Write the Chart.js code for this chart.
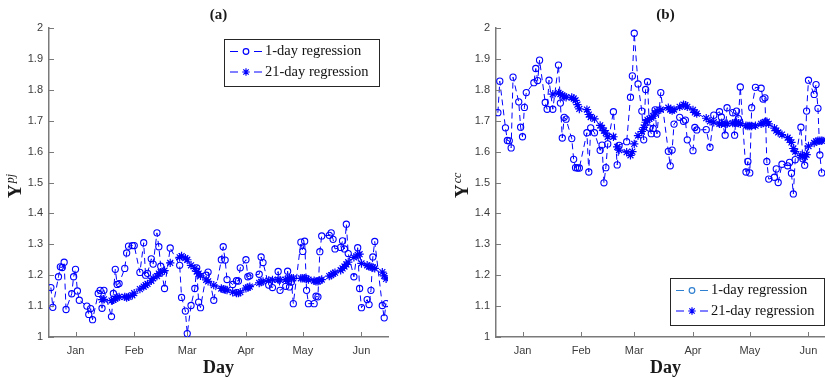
<!DOCTYPE html>
<html>
<head>
<meta charset="utf-8">
<script src="https://cdn.jsdelivr.net/npm/chart.js@4.4.0/dist/chart.umd.min.js"></script>
<style>
  html, body { margin: 0; padding: 0; background: #fff; width: 825px; height: 378px; overflow: hidden; }
  .panel { position: absolute; top: 0; width: 400px; height: 378px; }
</style>
</head>
<body>
<div class="panel" style="left:0px"><canvas id="pj" width="400" height="378"></canvas></div>
<div class="panel" style="left:447px"><canvas id="cc" width="400" height="378"></canvas></div>
<script>
// Month boundaries (days counted from 1 January) and their labels
const monthTicks = [0, 31, 59, 90, 120, 151];
const monthNames = ['Jan', 'Feb', 'Mar', 'Apr', 'May', 'Jun'];
const yTicks = [1, 1.1, 1.2, 1.3, 1.4, 1.5, 1.6, 1.7, 1.8, 1.9, 2];

// Panel (a): Y^pj
const pjDays1 = [-13,-12,-9,-8,-7,-6,-5,-2,-1,0,1,2,6,7,8,9,12,13,14,15,19,20,21,22,23,26,27,28,30,31,34,36,37,38,40,41,43,44,45,47,50,55,56,58,59,61,63,64,65,66,69,70,73,77,78,79,80,83,85,86,87,90,91,92,97,98,99,102,104,107,108,111,112,113,114,115,119,120,121,122,123,126,127,128,129,130,134,135,136,137,140,141,142,143,144,147,149,150,151,154,155,156,157,158,162,163,164];
const pjVals1 = [1.160,1.096,1.195,1.227,1.225,1.242,1.089,1.140,1.195,1.219,1.149,1.119,1.100,1.073,1.092,1.056,1.141,1.151,1.093,1.151,1.066,1.141,1.219,1.170,1.173,1.222,1.272,1.294,1.296,1.296,1.209,1.305,1.200,1.206,1.253,1.236,1.337,1.292,1.229,1.157,1.288,1.232,1.128,1.084,1.011,1.102,1.157,1.224,1.113,1.095,1.200,1.210,1.119,1.250,1.292,1.249,1.186,1.170,1.182,1.181,1.224,1.250,1.195,1.198,1.203,1.259,1.241,1.168,1.160,1.212,1.151,1.164,1.213,1.162,1.178,1.108,1.307,1.277,1.310,1.151,1.108,1.108,1.132,1.130,1.276,1.327,1.329,1.337,1.316,1.285,1.290,1.311,1.285,1.365,1.270,1.195,1.289,1.157,1.095,1.121,1.105,1.151,1.259,1.309,1.102,1.062,1.108];
const pjDays21 = [14,15,19,20,21,22,23,26,27,28,30,31,34,36,37,38,40,41,43,44,45,47,50,55,56,58,59,61,63,64,65,66,69,70,73,77,78,79,80,83,85,86,87,90,91,92,97,98,99,102,104,107,108,111,112,113,114,115,119,120,121,122,123,126,127,128,129,130,134,135,136,137,140,141,142,143,144,147,149,150,151,154,155,156,157,158,162,163,164];
const pjVals21 = [1.121,1.122,1.118,1.120,1.124,1.128,1.130,1.130,1.128,1.130,1.135,1.142,1.155,1.163,1.168,1.172,1.182,1.190,1.197,1.205,1.210,1.215,1.240,1.258,1.262,1.255,1.250,1.232,1.222,1.212,1.205,1.198,1.185,1.180,1.168,1.157,1.155,1.153,1.152,1.145,1.142,1.142,1.145,1.158,1.160,1.163,1.175,1.178,1.180,1.183,1.185,1.186,1.185,1.186,1.188,1.190,1.190,1.190,1.190,1.190,1.190,1.188,1.186,1.182,1.180,1.180,1.183,1.186,1.197,1.200,1.205,1.208,1.216,1.222,1.228,1.235,1.242,1.258,1.266,1.268,1.238,1.232,1.228,1.227,1.225,1.222,1.210,1.198,1.188];

// Panel (b): Y^cc
const ccDays1 = [-13,-12,-9,-8,-7,-6,-5,-2,-1,0,1,2,6,7,8,9,12,13,14,16,19,20,21,22,23,26,27,28,29,30,34,35,36,38,41,42,43,44,45,48,50,51,55,57,58,59,61,63,64,65,66,67,68,69,70,71,73,77,78,79,80,83,85,86,87,90,91,92,97,99,101,104,105,107,108,111,112,113,114,115,118,119,120,121,123,126,127,128,129,130,133,134,135,137,140,141,142,143,144,147,148,149,150,151,154,155,156,157,158];
const ccVals1 = [1.726,1.828,1.677,1.636,1.635,1.612,1.841,1.761,1.679,1.648,1.743,1.791,1.823,1.869,1.830,1.896,1.759,1.737,1.831,1.737,1.880,1.757,1.644,1.711,1.705,1.642,1.575,1.548,1.547,1.547,1.661,1.534,1.677,1.661,1.604,1.621,1.499,1.548,1.625,1.729,1.557,1.620,1.632,1.776,1.845,1.983,1.819,1.731,1.638,1.801,1.826,1.676,1.658,1.675,1.735,1.657,1.791,1.601,1.554,1.605,1.689,1.711,1.698,1.702,1.638,1.603,1.678,1.670,1.671,1.614,1.718,1.729,1.712,1.653,1.742,1.726,1.653,1.731,1.707,1.809,1.534,1.568,1.531,1.742,1.808,1.805,1.770,1.774,1.568,1.511,1.517,1.544,1.500,1.559,1.554,1.565,1.530,1.463,1.574,1.679,1.577,1.556,1.731,1.831,1.785,1.817,1.740,1.589,1.531];
const ccDays21 = [16,19,20,21,22,23,26,27,28,29,30,34,35,36,38,41,42,43,44,45,48,50,51,55,57,58,59,61,63,64,65,66,67,68,69,70,71,73,77,78,79,80,83,85,86,87,90,91,92,97,99,101,104,105,107,108,111,112,113,114,115,118,119,120,121,123,126,127,128,129,130,133,134,135,137,140,141,142,143,144,147,148,149,150,151,154,155,156,157,158,160,162,164];
const ccVals21 = [1.786,1.790,1.786,1.782,1.778,1.776,1.775,1.772,1.766,1.752,1.738,1.736,1.720,1.712,1.706,1.685,1.677,1.668,1.660,1.648,1.648,1.615,1.605,1.598,1.588,1.600,1.625,1.652,1.665,1.678,1.695,1.703,1.706,1.710,1.715,1.725,1.732,1.736,1.742,1.736,1.733,1.736,1.745,1.752,1.750,1.745,1.735,1.727,1.723,1.708,1.698,1.695,1.690,1.690,1.690,1.690,1.692,1.693,1.694,1.692,1.690,1.684,1.683,1.683,1.683,1.684,1.690,1.692,1.696,1.697,1.690,1.676,1.668,1.662,1.655,1.645,1.638,1.630,1.610,1.600,1.588,1.585,1.583,1.590,1.618,1.628,1.633,1.635,1.635,1.635,1.638,1.640,1.640];

const BLUE = '#0000ff';
const AXIS = '#7a7a7a';
const TICK = '#3c3c3c';
const SERIF = '"Liberation Serif", "DejaVu Serif", serif';

function drawCircle(ctx, x, y, r) {
  ctx.beginPath();
  ctx.arc(x, y, r, 0, Math.PI * 2);
  ctx.stroke();
}
function drawStar(ctx, x, y, r) {
  ctx.beginPath();
  for (let k = 0; k < 4; k++) {
    const a = k * Math.PI / 4;
    const dx = Math.cos(a) * r, dy = Math.sin(a) * r;
    ctx.moveTo(x - dx, y - dy);
    ctx.lineTo(x + dx, y + dy);
  }
  ctx.stroke();
}

// Panel decorations: inward ticks, title, axis labels and legend box
function decor(cfg) {
  return {
    id: 'decor',
    afterDraw(chart) {
      const { ctx, chartArea: a, scales: { x, y } } = chart;
      ctx.save();
      ctx.strokeStyle = AXIS;
      ctx.lineWidth = 1;
      ctx.beginPath();
      monthTicks.forEach(v => {
        const px = Math.round(x.getPixelForValue(v)) + 0.5;
        ctx.moveTo(px, a.bottom);
        ctx.lineTo(px, a.bottom - 5);
      });
      yTicks.forEach(v => {
        const py = Math.round(y.getPixelForValue(v)) + 0.5;
        ctx.moveTo(a.left, py);
        ctx.lineTo(a.left + 5, py);
      });
      ctx.stroke();

      const cx = (a.left + a.right) / 2;
      ctx.fillStyle = '#1a1a1a';
      ctx.textAlign = 'center';
      ctx.textBaseline = 'alphabetic';
      ctx.font = 'bold 15px ' + SERIF;
      ctx.fillText(cfg.title, cx, 19);
      ctx.font = 'bold 18px ' + SERIF;
      ctx.fillText('Day', cx, 373);

      // rotated y label: bold Y with italic superscript
      ctx.save();
      ctx.translate(21, 198);
      ctx.rotate(-Math.PI / 2);
      ctx.textAlign = 'left';
      ctx.font = 'bold 19px ' + SERIF;
      ctx.fillText('Y', 0, 0);
      const wY = ctx.measureText('Y').width;
      ctx.font = 'italic 12px ' + SERIF;
      ctx.fillText(cfg.sup, wY + 1, -7);
      ctx.restore();

      // legend
      const b = cfg.legend;
      ctx.fillStyle = '#fff';
      ctx.fillRect(b.x, b.y, b.w, b.h);
      ctx.strokeStyle = '#262626';
      ctx.lineWidth = 1;
      ctx.strokeRect(b.x + 0.5, b.y + 0.5, b.w, b.h);
      const rows = [
        { text: '1-day regression', color: cfg.firstColor, mark: 'circle', dy: 12.5 },
        { text: '21-day regression', color: BLUE, mark: 'star', dy: 33 }
      ];
      rows.forEach(r => {
        const ry = b.y + r.dy;
        ctx.strokeStyle = r.color;
        ctx.lineWidth = 1.2;
        ctx.beginPath();
        ctx.moveTo(b.x + 6, ry); ctx.lineTo(b.x + 14, ry);
        ctx.moveTo(b.x + 30, ry); ctx.lineTo(b.x + 38, ry);
        ctx.stroke();
        if (r.mark === 'circle') drawCircle(ctx, b.x + 22, ry, 2.8);
        else drawStar(ctx, b.x + 22, ry, 3.8);
        ctx.fillStyle = '#111';
        ctx.textAlign = 'left';
        ctx.textBaseline = 'middle';
        ctx.font = '14.5px ' + SERIF;
        ctx.fillText(r.text, b.x + 41, ry);
      });
      ctx.restore();
    }
  };
}

function buildChart(id, cfg) {
  const pts = (d, v) => d.map((day, i) => ({ x: day, y: v[i] }));
  return new Chart(document.getElementById(id), {
    type: 'line',
    data: {
      datasets: [
        {
          label: '1-day regression',
          data: pts(cfg.days1, cfg.vals1),
          borderColor: BLUE, borderWidth: 1, borderDash: [6, 4],
          pointStyle: 'circle', pointRadius: 3.1, pointBorderWidth: 1.1,
          pointBorderColor: BLUE, pointBackgroundColor: 'rgba(0,0,0,0)',
          tension: 0, fill: false
        },
        {
          label: '21-day regression',
          data: pts(cfg.days21, cfg.vals21),
          borderColor: BLUE, borderWidth: 1, borderDash: [6, 4],
          pointStyle: 'star', pointRadius: 4.2, pointBorderWidth: 1.2,
          pointBorderColor: BLUE, pointBackgroundColor: BLUE,
          tension: 0, fill: false
        }
      ]
    },
    options: {
      responsive: false,
      animation: false,
      devicePixelRatio: 1,
      layout: { padding: { top: 28, right: 12, left: 0, bottom: 0 } },
      plugins: { legend: { display: false }, tooltip: { enabled: false }, title: { display: false } },
      scales: {
        x: {
          type: 'linear', min: -14, max: 165,
          afterBuildTicks: s => { s.ticks = monthTicks.map(v => ({ value: v })); },
          ticks: {
            autoSkip: false, maxRotation: 0, padding: 7, color: TICK,
            font: { family: '"Liberation Sans", Arial, sans-serif', size: 11 },
            callback: v => monthNames[monthTicks.indexOf(v)]
          },
          grid: { display: false, drawTicks: false },
          border: { display: true, color: AXIS, width: 1.5 },
          afterFit: s => { s.height = 41; }
        },
        y: {
          type: 'linear', min: 1, max: 2,
          afterBuildTicks: s => { s.ticks = yTicks.map(v => ({ value: v })); },
          ticks: {
            padding: 6, color: TICK,
            font: { family: '"Liberation Sans", Arial, sans-serif', size: 11 },
            callback: v => String(Math.round(v * 10) / 10)
          },
          grid: { display: false, drawTicks: false },
          border: { display: true, color: AXIS, width: 1.5 },
          afterFit: s => { s.width = 49; }
        }
      }
    },
    plugins: [decor(cfg)]
  });
}

buildChart('pj', {
  days1: pjDays1, vals1: pjVals1, days21: pjDays21, vals21: pjVals21,
  title: '(a)', sup: 'pj', firstColor: BLUE,
  legend: { x: 224, y: 39, w: 155, h: 47 }
});
buildChart('cc', {
  days1: ccDays1, vals1: ccVals1, days21: ccDays21, vals21: ccVals21,
  title: '(b)', sup: 'cc', firstColor: '#2f7fd0',
  legend: { x: 223, y: 278, w: 154, h: 47 }
});
</script>
</body>
</html>
